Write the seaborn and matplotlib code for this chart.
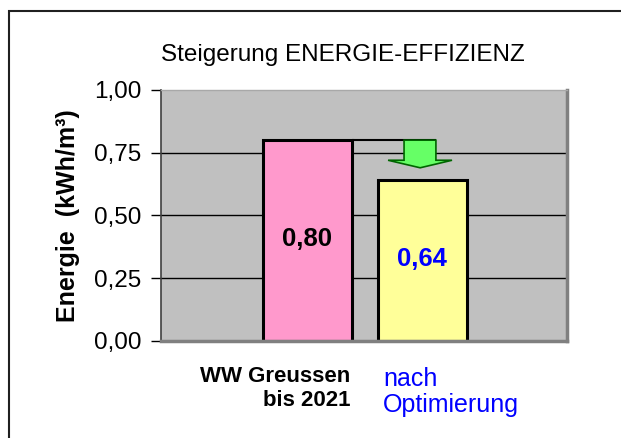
import numpy as np
import pandas as pd
import seaborn as sns
import matplotlib.pyplot as plt
from matplotlib.patches import Rectangle, Polygon

categories = ["WW Greussen\nbis 2021", "nach\nOptimierung"]
values = [0.80, 0.64]
value_labels = ["0,80", "0,64"]
bar_colors = ["#ff99cc", "#ffff99"]
label_colors = ["black", "blue"]
yticks = [0.0, 0.25, 0.5, 0.75, 1.0]
ytick_labels = ["0,00", "0,25", "0,50", "0,75", "1,00"]

sns.set_style("white")
plt.rcParams["font.family"] = ["Liberation Sans", "DejaVu Sans"]
plt.rcParams["text.color"] = "black"
plt.rcParams["ytick.color"] = "black"
plt.rcParams["ytick.labelcolor"] = "black"

df = pd.DataFrame({"cat": categories, "val": values})

fig = plt.figure(figsize=(6.21, 4.38), dpi=100)
ax = fig.add_axes([0.2593, 0.2215, 0.6538, 0.5731])
ax.set_facecolor("#c0c0c0")

for y in yticks[1:-1]:
    ax.axhline(y, color="black", linewidth=1.0, zorder=0)

sns.barplot(data=df, x="cat", y="val", hue="cat", palette=bar_colors, legend=False,
            width=0.774, edgecolor="black", linewidth=2.2, saturation=1, ax=ax, zorder=2)

ax.set_xlim(-1.27, 2.26)
ax.set_ylim(0, 1)
ax.set_yticks(yticks)
ax.set_yticklabels(ytick_labels, fontsize=17.5, color="black")
ax.set_xticks([])
ax.set_xlabel("")
ax.set_ylabel("")
ax.tick_params(axis="y", direction="out", length=7, width=1, color="black", pad=7, left=True)

ax.spines["left"].set_color("#404040")
ax.spines["left"].set_linewidth(1.2)
ax.spines["top"].set_color("#a8a8a8")
ax.spines["top"].set_linewidth(1.0)
for side in ["right", "bottom"]:
    ax.spines[side].set_color("#808080")
    ax.spines[side].set_linewidth(2.5)

# value labels inside bars
label_y = [(341 - 239) / 251, (341 - 259) / 251]
for i, (lab, col) in enumerate(zip(value_labels, label_colors)):
    ax.text(i, label_y[i], lab, ha="center", va="center",
            fontsize=18.5, fontweight="bold", color=col, zorder=5)

# connector line and green arrow
half = 0.774 / 2
ax.plot([half, 1.12], [values[0], values[0]], color="black", linewidth=1.5, zorder=3,
        solid_capstyle="butt")
arrow = Polygon([(0.843, 0.80), (1.12, 0.80), (1.12, 0.72), (1.26, 0.72),
                 (0.983, 0.69), (0.704, 0.72), (0.843, 0.72)],
                closed=True, facecolor="#66ff66", edgecolor="#006600", linewidth=1.2, zorder=4)
ax.add_patch(arrow)

# category labels below axis
trans = ax.get_xaxis_transform()
ax.text(0.374, -0.098, categories[0], transform=trans, ha="right", va="top",
        fontsize=16, fontweight="bold", color="black", linespacing=1.2)
ax.text(0.66, -0.104, categories[1], transform=trans, ha="left", va="top",
        fontsize=18, color="blue", linespacing=1.1)

fig.text(343 / 621, 1 - 55 / 438, "Steigerung ENERGIE-EFFIZIENZ", ha="center", va="center",
         fontsize=17.5, color="black")
fig.text(67.5 / 621, 1 - 216 / 438, "Energie  (kWh/m³)", ha="center", va="center",
         rotation=90, fontsize=18, fontweight="bold", color="black")

fig.patches.append(Rectangle((9 / 621, -0.1), 1.2, 1 - 11 / 438 + 0.1, transform=fig.transFigure,
                             fill=False, edgecolor="#202020", linewidth=1.5))

fig.savefig("out.png", dpi=100)
